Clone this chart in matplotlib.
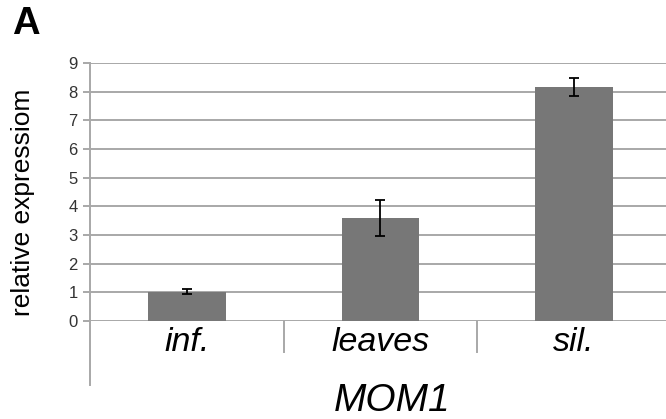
import numpy as np
import matplotlib
matplotlib.use("Agg")
import matplotlib.pyplot as plt
import matplotlib.transforms as mtransforms

plt.rcParams['font.family'] = ['Liberation Sans', 'DejaVu Sans']

tissues = ['inf.', 'leaves', 'sil.']
expression = [1.02, 3.58, 8.17]
errors = [0.09, 0.63, 0.31]
yticks = [0, 1, 2, 3, 4, 5, 6, 7, 8, 9]
gene = 'MOM1'

grid_col = '#a8a8a8'

fig = plt.figure(figsize=(6.66, 4.19), dpi=100)
ax = fig.add_axes([90/666, 1 - 321/419, 1 - 90/666, (321 - 63)/419])

x = np.arange(len(tissues))
ax.bar(x, expression, width=0.40, color='#777777', zorder=3)
ax.errorbar(x, expression, yerr=errors, fmt='none', ecolor='black',
            elinewidth=1.3, capsize=3.5, capthick=1.3, zorder=4)

ax.set_xlim(-0.5, 2.475)
ax.set_ylim(0, 9)
ax.set_yticks(yticks)
ax.yaxis.grid(True, color=grid_col, linewidth=1.4, zorder=0)
ax.tick_params(axis='y', length=5, width=1.4, color=grid_col, direction='out',
               labelsize=12, labelcolor='#333333', pad=4)
for s in ['top', 'right', 'bottom']:
    ax.spines[s].set_visible(False)
ax.spines['left'].set_color(grid_col)
ax.spines['left'].set_linewidth(1.4)

# category labels below axis
ax.set_xticks(x)
ax.set_xticklabels(tissues, fontsize=24.5, style='italic')
ax.tick_params(axis='x', length=0, pad=4)

# separators below the axis
trans = mtransforms.blended_transform_factory(ax.transData, ax.transAxes)
for b in [0.5, 1.5, 2.5]:
    ax.plot([b, b], [0, -31/258], color=grid_col, lw=1.4, transform=trans, clip_on=False)
ax.plot([-0.5, -0.5], [0, -64/258], color=grid_col, lw=1.4, transform=trans, clip_on=False)

fig.text(23/666, 1 - 202/419, 'relative expressiom', fontsize=19, rotation=90,
         ha='center', va='center')
fig.text(392/666, 1 - 401/419, gene, fontsize=28, style='italic', ha='center', va='center')
fig.text(12/666, 1 - 24/419, 'A', fontsize=27.5, fontweight='bold', ha='left', va='center')

fig.savefig('out.png', dpi=100)
